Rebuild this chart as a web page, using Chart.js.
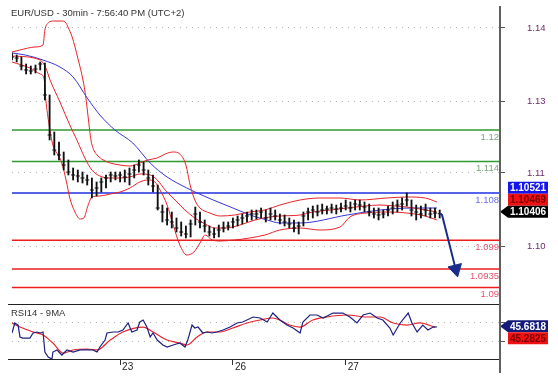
<!DOCTYPE html>
<html>
<head>
<meta charset="utf-8">
<script src="https://cdn.jsdelivr.net/npm/chart.js@4.4.0/dist/chart.umd.min.js"></script>
<style>
  body { margin: 0; background: #fff; }
  #wrap { position: relative; width: 558px; height: 384px; overflow: hidden; font-family: "Liberation Sans", Arial, sans-serif; }
  #main { position: absolute; left: 0; top: 0; }
  #rsi { position: absolute; left: 0; top: 303px; }
  .cap { position: absolute; left: 11px; font-size: 9.5px; line-height: 12px; color: #333; white-space: nowrap; }
  #axisLine { position: absolute; left: 499px; top: 6px; width: 2px; height: 367px; background: #606060; }
</style>
</head>
<body>
<div id="wrap">
  <canvas id="main" width="558" height="304"></canvas>
  <canvas id="rsi" width="558" height="81"></canvas>
  <div class="cap" style="top:7px">EUR/USD - 30min - 7:56:40 PM (UTC+2)</div>
  <div class="cap" style="top:307px">RSI14 - 9MA</div>
  <div id="axisLine"></div>
</div>
<script>
// hourly bars (index = hours from the first bar)
const barHigh = [1.13467,1.13429,1.13390,1.13257,1.13219,1.13238,1.13295,1.13276,1.12667,1.11962,
  1.11771,1.11581,1.11429,1.11276,1.11238,1.11200,1.11143,1.11086,1.11010,1.11086,
  1.11143,1.11200,1.11200,1.11200,1.11238,1.11276,1.11333,1.11429,1.11390,1.11238,
  1.11143,1.10952,1.10571,1.10514,1.10438,1.10324,1.10248,1.10171,1.10286,1.10533,
  1.10438,1.10286,1.10171,1.10133,1.10190,1.10248,1.10248,1.10324,1.10362,1.10400,
  1.10438,1.10476,1.10476,1.10514,1.10476,1.10514,1.10476,1.10400,1.10381,1.10324,
  1.10286,1.10248,1.10438,1.10514,1.10552,1.10571,1.10590,1.10552,1.10590,1.10571,
  1.10610,1.10667,1.10629,1.10667,1.10667,1.10629,1.10590,1.10514,1.10514,1.10476,
  1.10552,1.10629,1.10667,1.10705,1.10800,1.10667,1.10571,1.10552,1.10590,1.10514,
  1.10514,1.10476];
const barLow = [1.13333,1.13295,1.13143,1.13067,1.13067,1.13086,1.13143,1.12571,1.11810,1.11524,
  1.11429,1.11238,1.11143,1.11048,1.11010,1.10990,1.10952,1.10705,1.10743,1.10819,
  1.10895,1.11010,1.11048,1.11010,1.11010,1.10952,1.11086,1.11200,1.11143,1.10952,
  1.10819,1.10476,1.10248,1.10190,1.10133,1.10057,1.09981,1.09943,1.09962,1.10190,
  1.10133,1.10057,1.09981,1.09943,1.09962,1.10057,1.10095,1.10133,1.10171,1.10210,
  1.10248,1.10286,1.10305,1.10324,1.10248,1.10286,1.10286,1.10210,1.10171,1.10133,
  1.10057,1.10019,1.10171,1.10286,1.10324,1.10362,1.10400,1.10400,1.10419,1.10400,
  1.10438,1.10476,1.10438,1.10476,1.10476,1.10438,1.10362,1.10324,1.10286,1.10324,
  1.10362,1.10400,1.10438,1.10476,1.10552,1.10362,1.10286,1.10324,1.10362,1.10324,
  1.10324,1.10324];
const barClose = [1.13390,1.13371,1.13219,1.13143,1.13124,1.13162,1.13257,1.12667,1.11905,1.11619,
  1.11524,1.11333,1.11200,1.11143,1.11124,1.11086,1.11048,1.10857,1.10895,1.11010,
  1.11086,1.11143,1.11124,1.11143,1.11105,1.11162,1.11238,1.11333,1.11238,1.11086,
  1.10933,1.10514,1.10438,1.10286,1.10248,1.10133,1.10057,1.10019,1.10210,1.10400,
  1.10248,1.10171,1.10057,1.10019,1.10095,1.10133,1.10171,1.10248,1.10286,1.10324,
  1.10362,1.10400,1.10400,1.10438,1.10324,1.10400,1.10362,1.10286,1.10248,1.10210,
  1.10133,1.10171,1.10362,1.10438,1.10476,1.10438,1.10476,1.10495,1.10514,1.10495,
  1.10514,1.10552,1.10514,1.10590,1.10571,1.10533,1.10438,1.10400,1.10381,1.10400,
  1.10476,1.10514,1.10571,1.10590,1.10667,1.10476,1.10438,1.10400,1.10476,1.10400,
  1.10419,1.10406];

// bollinger bands and moving average, read as (hour, price)
const bbUpperIdx = [0,1.7,4.9,6.6,7.0,7.7,8.9,10.6,11.5,11.9,12.8,14.0,15.1,15.7,16.2,16.8,17.4,18.3,19.4,20.9,23.0,25.1,27.2,28.9,30.9,32.6,34.3,35.7,37.0,37.9,38.9,40.0,42.1,44.3,47.4,50.6,53.8,57.0,61.3,65.5,69.8,74.0,79.8,84.0,87.9,90.4];
const bbUpper = [1.13486,1.13524,1.13581,1.13619,1.13905,1.14038,1.14076,1.14076,1.14038,1.13962,1.13771,1.13371,1.12952,1.12629,1.12248,1.11810,1.11619,1.11505,1.11429,1.11371,1.11333,1.11314,1.11371,1.11429,1.11467,1.11543,1.11581,1.11543,1.11333,1.10952,1.10667,1.10514,1.10419,1.10362,1.10381,1.10438,1.10476,1.10571,1.10667,1.10705,1.10705,1.10667,1.10705,1.10724,1.10705,1.10629];
const bbMidIdx = [0,6.0,7.2,8.1,10.2,12.3,13.8,15.5,17.0,18.7,20.9,23.0,25.1,27.2,29.4,30.9,32.6,34.7,36.8,38.9,41.1,43.2,45.3,48.5,51.7,54.9,57.0,61.3,64.0,67.7,71.3,75.1,78.3,81.5,84.0,86.8,90.4];
const bbMid = [1.13410,1.13333,1.13181,1.12952,1.12533,1.12095,1.11810,1.11467,1.11238,1.11124,1.11086,1.11086,1.11105,1.11162,1.11143,1.11048,1.10857,1.10667,1.10476,1.10324,1.10210,1.10133,1.10133,1.10190,1.10286,1.10343,1.10362,1.10381,1.10438,1.10476,1.10514,1.10552,1.10571,1.10552,1.10533,1.10495,1.10438];
const bbLowIdx = [0,3.8,6.0,6.8,7.2,7.9,8.7,9.8,10.6,11.5,12.3,13.4,14.5,15.3,16.2,17.0,18.7,20.9,23.0,25.1,27.2,28.9,30.4,31.5,33.0,34.3,35.7,37.2,38.7,40.0,41.1,42.6,44.3,47.4,50.6,53.8,57.0,61.3,65.5,69.8,71.9,75.5,80.4,84.0,87.9,90.4];
const bbLow = [1.13295,1.13181,1.13067,1.12990,1.12571,1.12095,1.11714,1.11524,1.11371,1.11048,1.10705,1.10438,1.10305,1.10324,1.10571,1.10724,1.10743,1.10781,1.10819,1.10895,1.11010,1.11048,1.11010,1.10857,1.10571,1.10190,1.09810,1.09619,1.09676,1.09848,1.10000,1.09905,1.09886,1.09905,1.09943,1.10000,1.10095,1.10133,1.10095,1.10152,1.10343,1.10419,1.10438,1.10419,1.10362,1.10286];
const maIdx = [0,2.8,6.6,10.2,13.0,16.0,18.7,21.9,25.7,29.4,33.0,37.2,39.4,42.8,47.0,51.3,54.3,57.0,61.3,71.3,78.3,85.3,90.4];
const maVal = [1.13467,1.13429,1.13333,1.13200,1.13010,1.12610,1.12286,1.12000,1.11752,1.11371,1.11105,1.10895,1.10800,1.10667,1.10514,1.10362,1.10286,1.10229,1.10229,1.10381,1.10476,1.10514,1.10514];

// projected move arrow
const arrowIdx = [91, 91.5, 94.4];
const arrowPrice = [1.10406, 1.10381, 1.0935];

// support / resistance levels
const pivotLevels = [1.12, 1.114, 1.108, 1.099, 1.0935, 1.09];
const pivotColors = ['#2f9a2f', '#2f9a2f', '#1f2fe0', '#ee1d1d', '#ee1d1d', '#ee1d1d'];
const pivotText = ['#7ea27e', '#7ea27e', '#6b6be8', '#e8506e', '#e8506e', '#e8506e'];

// price axis labels (positions as drawn on the reference axis)
const axisTickPos = [1.13943, 1.12552, 1.11181, 1.09790];
const axisTickLabels = ['1.14', '1.13', '1.11', '1.10'];
const priceTags = [1.10521, 1.10469, 1.10406];
const priceTagColors = ['#1414ee', '#f01212', '#000000'];
const priceTagText = ['#ffffff', '#7a0000', '#ffffff'];

// RSI pane
const rsiIdx = [0,0.6,1.3,1.7,2.3,3.8,4.5,5.3,6.0,6.6,7.0,7.7,8.5,8.7,9.6,10.6,11.7,13.0,14.5,16.0,17.2,18.1,18.7,19.8,20.2,21.5,22.6,23.6,24.7,25.5,26.6,27.2,27.9,28.7,29.4,30.0,30.9,32.1,33.0,34.3,35.7,36.8,37.4,38.3,38.9,39.6,40.6,41.5,42.6,43.6,44.9,46.4,47.9,49.1,51.3,52.8,54.3,55.5,57.0,58.5,59.8,61.3,61.9,63.4,64.9,66.2,68.3,70.4,71.9,73.4,74.7,76.2,77.7,78.9,80.4,81.1,82.6,83.6,84.3,85.1,86.2,87.4,88.5,89.6,90.4];
const rsiVal = [38.9,50.0,47.7,34.5,33.3,33.3,38.9,40.0,38.9,40.0,17.8,12.3,10.0,17.8,20.1,14.5,20.1,17.8,20.1,20.1,20.1,17.8,23.4,31.1,38.9,40.0,40.0,42.2,50.0,40.0,42.2,51.1,53.3,45.5,34.5,38.9,31.1,25.6,23.4,25.6,27.8,23.4,31.1,47.7,44.4,45.5,38.9,40.0,38.9,40.0,42.2,45.5,50.0,51.1,56.6,55.5,51.1,61.0,53.3,47.7,44.4,38.9,51.1,58.8,58.8,55.5,61.0,61.0,56.6,50.0,58.8,61.0,55.5,53.3,44.4,36.7,50.0,56.6,61.0,50.0,40.0,47.7,42.2,45.5,45.68];
const rsiMaIdx = [0,1.7,4.5,6.6,8.7,10.9,13.0,16.0,18.1,20.9,23.6,27.9,30.0,33.0,35.7,37.2,39.4,41.5,44.3,47.0,50.0,52.8,55.5,57.0,59.1,61.3,64.0,67.0,71.3,75.5,78.3,81.1,84.0,86.8,90.0];
const rsiMa = [50.0,45.5,40.0,36.7,27.8,16.7,20.1,21.2,20.1,31.1,40.0,45.5,40.0,31.1,27.8,25.6,34.5,40.0,40.0,44.4,50.0,53.3,55.5,53.3,47.7,45.5,53.3,56.6,58.8,56.6,56.6,50.0,47.7,50.0,45.28];
const rsiGrid = [30, 50];
const rsiTags = [45.6818, 45.2825];
const rsiTagColors = ['#141a7a', '#f01212'];
const rsiTagText = ['#ffffff', '#7a0000'];

// x axis: day starts
const dayTicks = [23, 47, 71];
const dayLabels = ['23', '26', '27'];

const xMax = 103.83;
const priceMin = 1.086857, priceMax = 1.143619;
const rsiMin = 9, rsiMax = 71;

Chart.defaults.font.family = '"Liberation Sans", Arial, sans-serif';

const pairs = (xs, ys) => xs.map((x, i) => ({x: x, y: ys[i]}));

function drawTag(ctx, cy, text, bg, fg, arrow) {
  ctx.fillStyle = bg;
  ctx.beginPath();
  if (arrow) { ctx.moveTo(500, cy); ctx.lineTo(508, cy - 6); }
  else ctx.moveTo(508, cy - 6);
  ctx.lineTo(548, cy - 6);
  ctx.lineTo(548, cy + 6);
  ctx.lineTo(508, cy + 6);
  ctx.closePath();
  ctx.fill();
  ctx.fillStyle = fg;
  ctx.font = 'bold 10px "Liberation Sans", Arial';
  ctx.textAlign = 'center';
  ctx.textBaseline = 'middle';
  ctx.fillText(text, 528, cy + 0.5);
}

const pivotPlugin = {
  id: 'pivots',
  beforeDatasetsDraw(chart) {
    const {ctx, chartArea: a} = chart;
    const y = chart.scales.y;
    ctx.save();
    pivotLevels.forEach((lvl, i) => {
      const py = y.getPixelForValue(lvl);
      ctx.strokeStyle = pivotColors[i];
      ctx.lineWidth = 1.5;
      ctx.beginPath();
      ctx.moveTo(a.left, py);
      ctx.lineTo(a.right, py);
      ctx.stroke();
      ctx.fillStyle = pivotText[i];
      ctx.font = '9.5px "Liberation Sans", Arial';
      ctx.textAlign = 'right';
      ctx.textBaseline = 'middle';
      ctx.fillText(String(lvl), a.right - 1, py + 7);
    });
    ctx.restore();
  }
};

const priceTagPlugin = {
  id: 'priceTags',
  afterDraw(chart) {
    const ctx = chart.ctx;
    const base = chart.scales.y.getPixelForValue(priceTags[priceTags.length - 1]) - 2;
    ctx.save();
    priceTags.forEach((v, i) => {
      const cy = base - (priceTags.length - 1 - i) * 12;
      drawTag(ctx, cy, v.toFixed(5), priceTagColors[i], priceTagText[i], i === priceTags.length - 1);
    });
    ctx.restore();
  }
};

const rsiPlugin = {
  id: 'rsiFrame',
  afterDraw(chart) {
    const {ctx, chartArea: a} = chart;
    ctx.save();
    ctx.strokeStyle = '#222';
    ctx.lineWidth = 1;
    ctx.beginPath();
    ctx.moveTo(8, Math.round(a.top) + 0.5);
    ctx.lineTo(a.right, Math.round(a.top) + 0.5);
    ctx.moveTo(8, Math.round(a.bottom) - 0.5);
    ctx.lineTo(a.right, Math.round(a.bottom) - 0.5);
    ctx.stroke();
    const base = chart.scales.y.getPixelForValue(rsiTags[0]) - 0.5;
    rsiTags.forEach((v, i) => {
      drawTag(ctx, base + i * 12, v.toFixed(4), rsiTagColors[i], rsiTagText[i], i === 0);
    });
    ctx.restore();
  }
};

new Chart(document.getElementById('main'), {
  type: 'line',
  data: {
    datasets: [
      {
        data: pairs(arrowIdx, arrowPrice),
        borderColor: '#1b2d8c', borderWidth: 2,
        pointRadius: [0, 0, 8], pointStyle: 'triangle', pointRotation: [0, 0, 166],
        pointBackgroundColor: '#1b2d8c', pointBorderColor: '#1b2d8c', pointBorderWidth: 1
      },
      {
        type: 'bar',
        data: barHigh.map((h, i) => ({x: i, y: [barLow[i], h]})),
        backgroundColor: '#111', borderWidth: 0, barThickness: 1.2
      },
      {
        type: 'scatter',
        data: barClose.map((c, i) => ({x: i, y: c})),
        pointStyle: 'line', pointRadius: 2, borderColor: '#111', borderWidth: 1
      },
      { data: pairs(bbUpperIdx, bbUpper), borderColor: '#e8232a', borderWidth: 1, pointRadius: 0, cubicInterpolationMode: 'monotone' },
      { data: pairs(bbMidIdx, bbMid), borderColor: '#e8232a', borderWidth: 1, pointRadius: 0, cubicInterpolationMode: 'monotone' },
      { data: pairs(bbLowIdx, bbLow), borderColor: '#e8232a', borderWidth: 1, pointRadius: 0, cubicInterpolationMode: 'monotone' },
      { data: pairs(maIdx, maVal), borderColor: '#3535d8', borderWidth: 1, pointRadius: 0, cubicInterpolationMode: 'monotone' }
    ]
  },
  options: {
    responsive: false,
    animation: false,
    layout: { autoPadding: false, padding: { left: 12, top: 6, right: 0, bottom: 0 } },
    plugins: { legend: { display: false }, tooltip: { enabled: false } },
    scales: {
      x: { type: 'linear', min: 0, max: xMax, display: false, offset: false },
      y: {
        position: 'right', min: priceMin, max: priceMax,
        afterBuildTicks: s => { s.ticks = axisTickPos.map(v => ({value: v})); },
        afterFit: s => { s.width = 58; s.paddingTop = 0; s.paddingBottom = 0; },
        ticks: { callback: (v, i) => axisTickLabels[i], color: '#6e2a6e', font: { size: 9.5 }, padding: 22, autoSkip: false },
        grid: { color: '#b4b4b4', tickColor: '#555', tickLength: 5 },
        border: { display: false, dash: [1, 5] }
      }
    }
  },
  plugins: [pivotPlugin, priceTagPlugin]
});

new Chart(document.getElementById('rsi'), {
  type: 'line',
  data: {
    datasets: [
      { data: pairs(rsiIdx, rsiVal), borderColor: '#1e2080', borderWidth: 1.2, pointRadius: 0, tension: 0 },
      { data: pairs(rsiMaIdx, rsiMa), borderColor: '#e8232a', borderWidth: 1.2, pointRadius: 0, cubicInterpolationMode: 'monotone' }
    ]
  },
  options: {
    responsive: false,
    animation: false,
    layout: { autoPadding: false, padding: { left: 12, top: 1, right: 0, bottom: 0 } },
    plugins: { legend: { display: false }, tooltip: { enabled: false } },
    scales: {
      x: {
        type: 'linear', min: 0, max: xMax, offset: false,
        afterBuildTicks: s => { s.ticks = dayTicks.map(v => ({value: v})); },
        afterFit: s => { s.height = 24; s.paddingLeft = 0; s.paddingRight = 0; },
        ticks: { callback: (v, i) => dayLabels[i], color: '#222', font: { size: 10 }, align: 'start', padding: -4, labelOffset: 2, autoSkip: false, maxRotation: 0 },
        grid: { drawOnChartArea: false, tickColor: '#333', tickLength: 5 },
        border: { display: false }
      },
      y: {
        position: 'right', min: rsiMin, max: rsiMax,
        afterBuildTicks: s => { s.ticks = rsiGrid.map(v => ({value: v})); },
        afterFit: s => { s.width = 58; s.paddingTop = 0; s.paddingBottom = 0; },
        ticks: { display: false },
        grid: { color: '#b4b4b4', tickColor: '#555', tickLength: 5 },
        border: { display: false, dash: [1, 5] }
      }
    }
  },
  plugins: [rsiPlugin]
});
</script>
</body>
</html>
